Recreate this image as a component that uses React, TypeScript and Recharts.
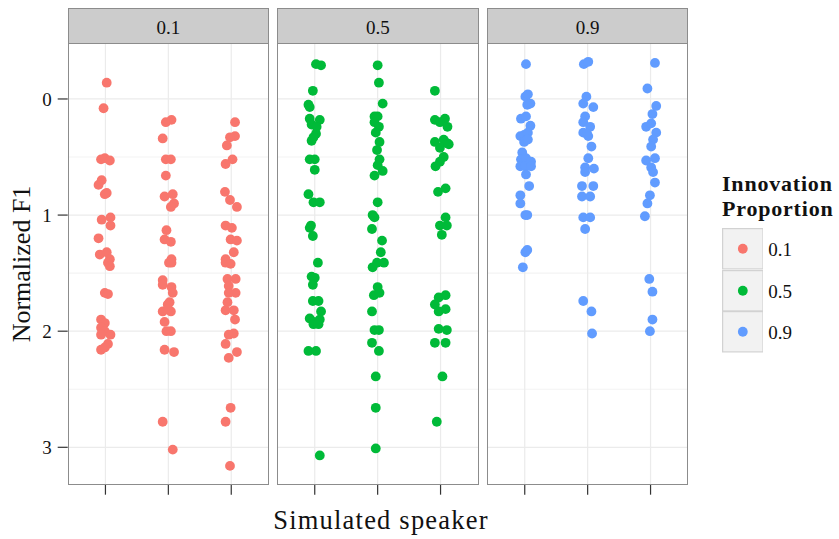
import React from 'react';
import { ScatterChart, Scatter, XAxis, YAxis, CartesianGrid } from 'recharts';

// ---------- data ----------
const facetLabels = ['0.1', '0.5', '0.9'];
const seriesColors = ['#F8766D', '#00BA38', '#619CFF'];
const speakerTicks = [1, 2, 3];
const f1Ticks = [0, 1, 2, 3];
const f1MinorTicks = [0.5, 1.5, 2.5];
const xAxisTitle = 'Simulated speaker';
const yAxisTitle = 'Normalized F1';
const legendTitle = ['Innovation', 'Proportion'];

// [speaker position incl. jitter, normalized F1]
const p01s1 = [[1.02,-0.14],[0.97,0.08],[0.93,0.52],[0.99,0.51],[1.07,0.53],[0.94,0.70],[0.89,0.74],[1.02,0.81],[0.99,0.82],[1.08,1.02],[0.94,1.04],[1.08,1.09],[0.89,1.20],[1.02,1.32],[0.91,1.34],[1.07,1.38],[1.04,1.41],[1.07,1.44],[0.99,1.67],[1.04,1.68],[0.93,1.90],[0.99,1.93],[0.93,1.97],[0.99,2.00],[1.08,2.03],[0.93,2.03],[1.04,2.11],[0.93,2.16],[0.99,2.14]];
const p01s2 = [[1.96,0.20],[2.05,0.18],[1.91,0.34],[1.96,0.52],[2.04,0.52],[1.96,0.66],[1.94,0.84],[2.07,0.82],[2.09,0.90],[2.04,0.93],[1.97,1.13],[1.94,1.21],[2.04,1.23],[2.05,1.38],[2.01,1.41],[2.05,1.41],[1.91,1.56],[1.91,1.60],[2.05,1.62],[2.07,1.67],[2.02,1.75],[1.99,1.77],[1.91,1.83],[2.04,1.83],[1.99,1.81],[1.94,1.92],[1.97,2.00],[2.04,2.00],[1.94,2.16],[2.09,2.18],[1.91,2.78],[2.07,3.02]];
const p01s3 = [[3.06,0.20],[3.06,0.32],[2.98,0.33],[2.93,0.40],[3.02,0.52],[2.91,0.56],[2.90,0.80],[2.98,0.87],[3.09,0.93],[2.91,1.09],[3.01,1.11],[2.99,1.21],[3.09,1.22],[3.04,1.32],[2.91,1.38],[2.91,1.41],[2.99,1.42],[2.94,1.55],[3.07,1.55],[2.96,1.61],[2.96,1.67],[3.07,1.67],[2.94,1.75],[2.91,1.82],[3.04,1.82],[3.06,1.90],[2.96,2.03],[3.04,2.02],[2.91,2.11],[3.09,2.18],[2.96,2.23],[2.99,2.66],[2.91,2.78],[2.98,3.16]];

const p05s1 = [[1.02,-0.30],[1.10,-0.29],[0.97,-0.07],[0.90,0.05],[0.92,0.07],[0.92,0.17],[1.08,0.18],[0.95,0.22],[1.03,0.24],[1.02,0.30],[0.95,0.36],[0.98,0.33],[0.92,0.52],[1.00,0.52],[1.00,0.61],[0.90,0.82],[0.98,0.89],[1.08,0.89],[0.94,1.09],[0.92,1.11],[0.97,1.18],[1.05,1.41],[0.95,1.53],[1.00,1.54],[0.97,1.60],[0.97,1.74],[1.06,1.74],[1.10,1.83],[0.92,1.89],[0.98,1.92],[1.08,1.90],[0.98,1.94],[1.06,1.94],[0.90,2.17],[1.02,2.17],[1.08,3.07]];
const p05s2 = [[2.00,-0.29],[2.02,-0.14],[2.08,0.04],[1.95,0.15],[2.00,0.15],[1.95,0.20],[2.02,0.24],[1.97,0.29],[2.03,0.37],[1.99,0.44],[2.03,0.52],[2.00,0.57],[2.08,0.62],[1.95,0.66],[2.00,0.89],[1.92,1.00],[1.95,1.02],[1.91,1.12],[2.07,1.22],[2.05,1.32],[1.92,1.45],[1.99,1.41],[2.10,1.41],[2.00,1.62],[1.94,1.69],[2.03,1.67],[1.91,1.83],[1.95,1.99],[2.02,1.99],[1.91,2.10],[2.02,2.17],[1.97,2.39],[1.97,2.66],[1.97,3.01]];
const p05s3 = [[2.91,-0.07],[2.91,0.18],[3.07,0.17],[2.99,0.20],[3.11,0.24],[2.91,0.37],[3.05,0.35],[3.10,0.38],[2.99,0.42],[3.13,0.39],[3.05,0.50],[2.99,0.54],[2.92,0.58],[2.96,0.80],[3.08,0.77],[3.08,1.02],[2.99,1.09],[3.10,1.09],[3.02,1.17],[2.97,1.71],[3.08,1.69],[2.91,1.77],[2.97,1.83],[3.08,1.81],[2.97,1.98],[3.10,1.99],[2.91,2.10],[3.08,2.10],[3.03,2.39],[2.94,2.78]];

const p09s1 = [[1.02,-0.30],[1.01,-0.02],[1.05,-0.04],[1.04,0.05],[1.09,0.04],[0.94,0.17],[1.02,0.15],[1.09,0.23],[0.93,0.32],[0.99,0.31],[1.05,0.29],[0.99,0.37],[1.05,0.35],[0.96,0.46],[0.94,0.52],[1.02,0.51],[1.10,0.54],[0.93,0.58],[1.01,0.58],[1.10,0.58],[1.02,0.65],[1.07,0.75],[0.93,0.83],[0.93,0.90],[1.01,1.00],[1.04,1.00],[1.01,1.32],[1.04,1.30],[0.97,1.45]];
const p09s2 = [[1.94,-0.30],[2.01,-0.32],[1.98,-0.02],[1.93,0.04],[2.09,0.07],[1.96,0.15],[1.93,0.20],[2.04,0.24],[1.93,0.29],[1.99,0.30],[2.01,0.32],[2.06,0.41],[2.01,0.51],[1.96,0.59],[2.10,0.60],[1.96,0.63],[1.91,0.75],[2.09,0.75],[1.91,0.84],[2.04,0.84],[1.93,1.02],[2.04,1.02],[1.96,1.12],[1.93,1.74],[2.06,1.83],[2.07,2.02]];
const p09s3 = [[3.07,-0.31],[2.95,-0.09],[3.09,0.06],[3.03,0.13],[2.93,0.24],[3.01,0.21],[3.09,0.29],[3.04,0.35],[3.01,0.41],[2.93,0.53],[3.07,0.51],[3.01,0.59],[3.04,0.63],[3.07,0.72],[2.99,0.83],[2.95,0.90],[2.91,1.01],[2.98,1.55],[3.03,1.66],[3.03,1.90],[2.99,2.00]];

const facetPoints = [
  [...p01s1, ...p01s2, ...p01s3],
  [...p05s1, ...p05s2, ...p05s3],
  [...p09s1, ...p09s2, ...p09s3],
];

// ---------- layout ----------
const FONT = '"Liberation Serif", "Times New Roman", serif';
const X_DOMAIN: [number, number] = [0.4, 3.6];
const Y_DOMAIN: [number, number] = [-0.482, 3.322];
const PANEL_LEFT = [67.7, 277.3, 486.9];
const PANEL_W = 201.3;
const PANEL_TOP = 43.3;
const PANEL_H = 441.7;
const STRIP_TOP = 8.3;
const Y_AXIS_W = 67.7;
const X_AXIS_H = 30;

const Dot = (color: string) => (props: any) => {
  const { cx, cy } = props;
  if (cx == null || cy == null) return null;
  return <circle cx={cx} cy={cy} r={4.9} fill={color} />;
};

function Panel({ idx }: { idx: number }) {
  const first = idx === 0;
  const data = facetPoints[idx].map(([x, y]) => ({ x, y }));
  const left = first ? 0 : PANEL_LEFT[idx];
  const width = PANEL_W + (first ? Y_AXIS_W : 0);
  return (
    <div style={{ position: 'absolute', left, top: PANEL_TOP, width, height: PANEL_H + X_AXIS_H }}>
      <ScatterChart
        width={width}
        height={PANEL_H + X_AXIS_H}
        margin={{ top: 0, right: 0, bottom: 0, left: 0 }}
        style={{ fontFamily: FONT }}
      >
        <CartesianGrid
          horizontalValues={f1MinorTicks}
          vertical={false}
          stroke="#f3f3f3"
          strokeWidth={1.2}
        />
        <CartesianGrid
          horizontalValues={f1Ticks}
          verticalValues={speakerTicks}
          stroke="#ebebeb"
          strokeWidth={1.2}
        />
        <XAxis
          type="number"
          dataKey="x"
          domain={X_DOMAIN}
          ticks={speakerTicks}
          allowDataOverflow
          height={X_AXIS_H}
          axisLine={false}
          tickLine={{ stroke: '#333333', strokeWidth: 1.2 }}
          tickSize={10}
          tickFormatter={() => ''}
        />
        <YAxis
          type="number"
          dataKey="y"
          reversed
          domain={Y_DOMAIN}
          ticks={f1Ticks}
          allowDataOverflow
          hide={!first}
          width={Y_AXIS_W}
          axisLine={false}
          tickLine={{ stroke: '#333333', strokeWidth: 1.2 }}
          tickSize={10}
          tickMargin={6}
          tick={{ fill: '#111111', fontSize: 19, fontFamily: FONT }}
        />
        <Scatter
          data={data}
          fill={seriesColors[idx]}
          isAnimationActive={false}
          shape={Dot(seriesColors[idx])}
        />
      </ScatterChart>
    </div>
  );
}

export default function App() {
  return (
    <div
      style={{
        position: 'absolute',
        left: 0,
        top: 0,
        width: 839,
        height: 539,
        background: '#ffffff',
        fontFamily: FONT,
        color: '#111111',
        overflow: 'hidden',
      }}
    >
      {facetLabels.map((lab, i) => (
        <React.Fragment key={lab}>
          <div
            style={{
              position: 'absolute',
              left: PANEL_LEFT[i],
              top: STRIP_TOP,
              width: PANEL_W,
              height: PANEL_TOP - STRIP_TOP,
              boxSizing: 'border-box',
              background: '#cccccc',
              border: '1.3px solid #8c8c8c',
              borderBottom: 'none',
              fontSize: 19,
              lineHeight: `${PANEL_TOP - STRIP_TOP + 2}px`,
              textAlign: 'center',
            }}
          >
            {lab}
          </div>
          <Panel idx={i} />
          <div
            style={{
              position: 'absolute',
              left: PANEL_LEFT[i],
              top: PANEL_TOP,
              width: PANEL_W,
              height: PANEL_H,
              boxSizing: 'border-box',
              border: '1.3px solid #8c8c8c',
              pointerEvents: 'none',
            }}
          />
        </React.Fragment>
      ))}

      {/* axis titles */}
      <div
        style={{
          position: 'absolute',
          left: 381 - 150,
          top: 506.5,
          width: 300,
          textAlign: 'center',
          fontSize: 26.5,
          letterSpacing: 1.2,
          lineHeight: '26px',
          whiteSpace: 'nowrap',
        }}
      >
        {xAxisTitle}
      </div>
      <div
        style={{
          position: 'absolute',
          left: 21.7 - 120,
          top: 263.5 - 13,
          width: 240,
          height: 26,
          textAlign: 'center',
          fontSize: 26,
          lineHeight: '26px',
          whiteSpace: 'nowrap',
          transform: 'rotate(-90deg)',
        }}
      >
        {yAxisTitle}
      </div>

      {/* legend */}
      <div
        style={{
          position: 'absolute',
          left: 722,
          top: 172.2,
          fontSize: 22,
          fontWeight: 'bold',
          letterSpacing: 0.8,
          lineHeight: '24.7px',
          whiteSpace: 'nowrap',
        }}
      >
        {legendTitle.map((t) => (
          <div key={t}>{t}</div>
        ))}
      </div>
      {facetLabels.map((lab, i) => (
        <React.Fragment key={'leg' + lab}>
          <svg
            width={41.6}
            height={41.5}
            style={{ position: 'absolute', left: 721.7, top: 228.3 + i * 41.5 }}
          >
            <rect x={0.6} y={0.6} width={40.4} height={40.3} fill="#f2f2f2" stroke="#d2d2d2" strokeWidth={1.2} />
            <circle cx={20.8} cy={20.75} r={4.9} fill={seriesColors[i]} />
          </svg>
          <div
            style={{
              position: 'absolute',
              left: 768.3,
              top: 228.3 + i * 41.5 + 1,
              fontSize: 19,
              lineHeight: '41.5px',
            }}
          >
            {lab}
          </div>
        </React.Fragment>
      ))}
    </div>
  );
}
